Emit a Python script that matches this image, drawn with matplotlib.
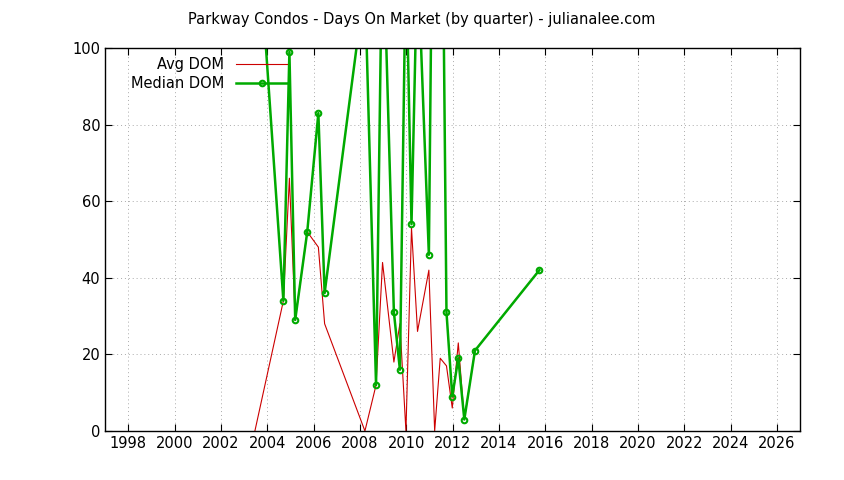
import matplotlib
matplotlib.use('Agg')
import matplotlib.pyplot as plt

# quarter positions (decimal year) and values
avg_years = [2003.47, 2004.70, 2004.96, 2005.21, 2005.73, 2006.21, 2006.48, 2008.22,
             2008.70, 2008.98, 2009.47, 2009.73, 2009.99, 2010.23, 2010.49, 2010.98,
             2011.23, 2011.47, 2011.74, 2011.99, 2012.25, 2012.51, 2012.97, 2015.75]
avg_dom = [0, 34, 66, 29, 52, 48, 28, 0,
           12, 44, 18, 28, 0, 53, 26, 42,
           0, 19, 17, 6, 23, 3, 21, 42]
median_dom = [142, 34, 99, 29, 52, 83, 36, 117,
              12, 135, 31, 16, 125, 54, 125, 46,
              200, 200, 31, 9, 19, 3, 21, 42]

fig = plt.figure(figsize=(8.44, 4.80), dpi=100)
ax = fig.add_axes([105 / 844, 1 - 431 / 480, 695 / 844, 383 / 480])

ax.plot(avg_years, avg_dom, color='#cc0000', linewidth=0.8, label='Avg DOM')
ax.plot(avg_years, median_dom, color='#00aa00', linewidth=1.8, marker='o',
        markersize=4, markerfacecolor='none', markeredgewidth=1.5, label='Median DOM')

ax.set_xlim(1997, 2027)
ax.set_ylim(0, 100)
ax.set_xticks(range(1998, 2027, 2))
ax.set_yticks(range(0, 101, 20))
ax.tick_params(direction='in', top=True, right=True, labelsize=10.5, length=5)
ax.grid(True, color='#aaaaaa', linestyle=(0, (1, 3)), linewidth=0.7)
for s in ax.spines.values():
    s.set_linewidth(1)

ax.legend(loc='upper left', frameon=False, markerfirst=False, fontsize=10.5,
          handlelength=3.5, borderaxespad=0.2, labelspacing=0.3,
          bbox_to_anchor=(0.025, 1.0))
fig.suptitle('Parkway Condos - Days On Market (by quarter) - julianalee.com',
             fontsize=10.5, y=0.975)
fig.savefig('out.png')
